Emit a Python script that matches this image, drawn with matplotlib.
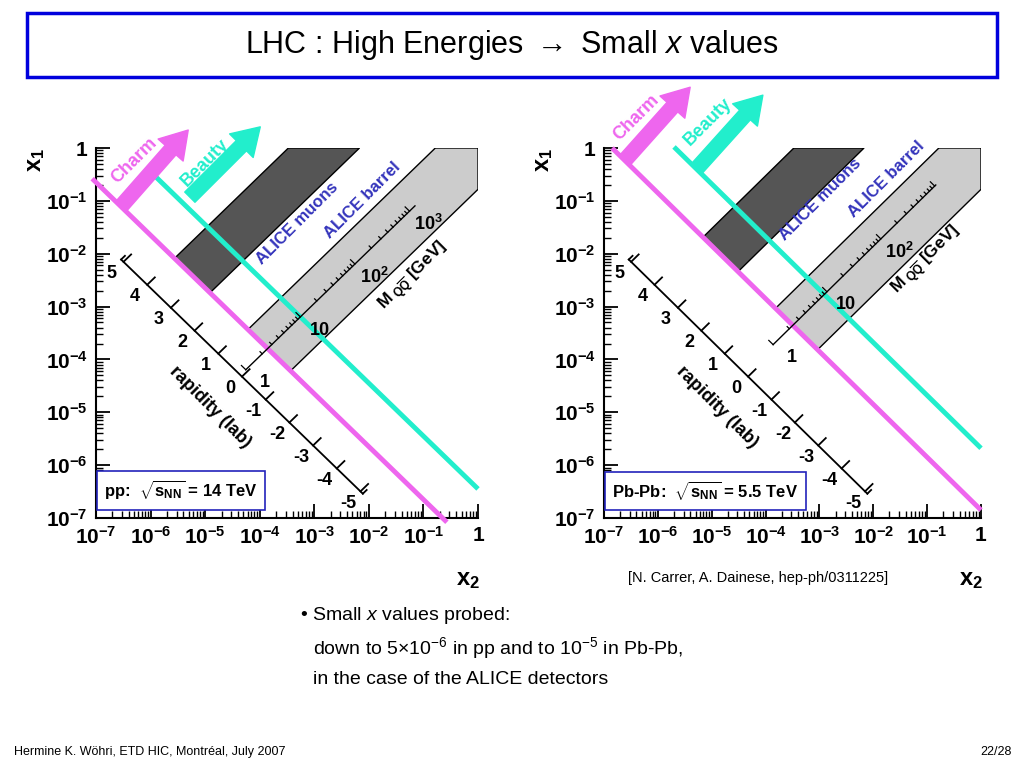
import numpy as np
import matplotlib
matplotlib.use("Agg")
import matplotlib.pyplot as plt
from matplotlib.patches import Polygon, Rectangle

plt.rcParams['font.family'] = ['Liberation Sans', 'DejaVu Sans']
plt.rcParams['mathtext.fontset'] = 'custom'
plt.rcParams['mathtext.rm'] = 'Liberation Sans'
plt.rcParams['mathtext.bf'] = 'Liberation Sans:bold'
plt.rcParams['mathtext.it'] = 'Liberation Sans:italic'

# ---- data (log10 units) ----
systems = ["pp", "Pb-Pb"]
box_texts = [r"pp:  $\mathbf{\sqrt{s_{NN}}}$ = 14 TeV", r"Pb-Pb:  $\mathbf{\sqrt{s_{NN}}}$ = 5.5 TeV"]
charm_sum = [-7.65, -6.85]          # log10(x1*x2) of charm threshold
charm_lx_range = [(-7.07, -0.57), (-6.85, 0.0)]
beauty_sum = [-6.45, -5.68]
beauty_lx_range = [(-5.97, 0.0), (-5.70, 0.0)]
muon_y = (2.5, 4.0)                 # rapidity range ALICE muons
barrel_y = (-0.9, 0.9)              # rapidity range ALICE barrel
rap_sum = -8.65                      # rapidity axis position
rap_ticks = list(range(-5, 6))
rap_extent = 5.1
M_offset = [-8.45, -7.58]            # sum = 2 log10 M + offset
M_diff = [0.06, 0.14]
M_end_sum = [-2.25, -1.54]
M_major = [[1, 10, 100, 1000], [1, 10, 100]]
M_major_labels = {1: "1", 10: "10", 100: r"$\mathbf{10^{2}}$", 1000: r"$\mathbf{10^{3}}$"}
M_label_pos = [(-1.18, -2.42), (-1.00, -2.12)]
muon_text_pos = [(-3.32, -1.42), (-2.99, -0.98)]
barrel_text_pos = [(-2.11, -0.98), (-1.75, -0.60)]
charm_text_pos = [(-6.29, -0.23), (-6.41, 0.57)]
beauty_text_pos = [(-5.00, -0.28), (-5.07, 0.49)]
charm_arrow = [((-6.52, -1.08), (-5.31, 0.34)), ((-6.61, -0.23), (-5.40, 1.15))]
beauty_arrow = [((-5.28, -0.93), (-3.99, 0.40)), ((-5.27, -0.38), (-4.05, 1.00))]
decades = list(range(-7, 1))
dec_labels = [r"$\mathbf{10^{%d}}$" % d for d in range(-7, 0)] + ["1"]

CHARM = "#ee66ee"
BEAUTY = "#22eecc"
TXT = "#3333bb"

fig = plt.figure(figsize=(10.24, 7.68), dpi=100)
W, H = 1024, 768

def pt(s, d):
    return ((s - d) / 2.0, (s + d) / 2.0)

K = 2 / np.log(10)

axes_px = [(96, 478), (604, 981)]
for i in range(2):
    x0, x1 = axes_px[i]
    ax = fig.add_axes([x0 / W, 1 - 518 / H, (x1 - x0) / W, (518 - 148) / H])
    ax.set_xlim(-7, 0); ax.set_ylim(-7, 0)
    for sp in ['top', 'right']:
        ax.spines[sp].set_visible(False)
    ax.spines['left'].set_linewidth(1.5); ax.spines['bottom'].set_linewidth(1.5)
    ax.set_xticks(decades); ax.set_yticks(decades)
    ax.set_xticklabels(dec_labels, fontsize=15, fontweight='bold')
    ax.set_yticklabels(dec_labels, fontsize=15, fontweight='bold')
    minor = [d + np.log10(k) for d in range(-7, 0) for k in range(2, 10)]
    ax.set_xticks(minor, minor=True); ax.set_yticks(minor, minor=True)
    ax.tick_params(which='major', direction='in', length=10, width=1.3, pad=6)
    ax.tick_params(which='minor', direction='in', length=5, width=1)
    ax.set_facecolor('none')

    c = charm_sum[i]
    d1, d2 = K * muon_y[0], K * muon_y[1]
    poly = [pt(c, d2), (-d2, 0), (-d1, 0), pt(c, d1)]
    ax.add_patch(Polygon(poly, closed=True, fc='#555555', ec='black', lw=1, zorder=1))
    b1, b2 = K * barrel_y[0], K * barrel_y[1]
    poly = [pt(c, b2), (-b2, 0), (0, 0), (0, b1), pt(c, b1)]
    ax.add_patch(Polygon(poly, closed=True, fc='#cccccc', ec='black', lw=1, zorder=1))

    for s, (la, lb), col in [(c, charm_lx_range[i], CHARM), (beauty_sum[i], beauty_lx_range[i], BEAUTY)]:
        ax.plot([la, lb], [s - la, s - lb], color=col, lw=3.5, clip_on=False, zorder=3,
                solid_capstyle='butt')
    for (b, t), col in [(charm_arrow[i], CHARM), (beauty_arrow[i], BEAUTY)]:
        ax.annotate("", xy=t, xytext=b, annotation_clip=False, zorder=4,
                    arrowprops=dict(arrowstyle="simple,head_width=1.5,head_length=1.2,tail_width=0.65",
                                    color=col, mutation_scale=16, shrinkA=0, shrinkB=0))
    ax.text(*charm_text_pos[i], "Charm", color=CHARM, rotation=45, fontsize=13, fontweight='bold',
            ha='center', va='center', clip_on=False)
    ax.text(*beauty_text_pos[i], "Beauty", color=BEAUTY, rotation=45, fontsize=13, fontweight='bold',
            ha='center', va='center', clip_on=False)
    ax.text(*muon_text_pos[i], "ALICE muons", color=TXT, rotation=45, fontsize=12, fontweight='bold',
            ha='center', va='center')
    ax.text(*barrel_text_pos[i], "ALICE barrel", color=TXT, rotation=45, fontsize=12, fontweight='bold',
            ha='center', va='center')

    # rapidity axis
    e = K * rap_extent
    A = pt(rap_sum, e); B = pt(rap_sum, -e)
    ax.plot([A[0], B[0]], [A[1], B[1]], color='black', lw=1.3, zorder=5)
    tl = 0.14
    for y in rap_ticks:
        p = pt(rap_sum, K * y)
        ax.plot([p[0], p[0] + tl], [p[1], p[1] + tl], color='black', lw=1.3, zorder=5)
        q = pt(rap_sum - 0.44, K * y)
        ax.text(q[0], q[1], str(y), fontsize=13, fontweight='bold', ha='center', va='center')
    for p in (A, B):
        ax.plot([p[0], p[0] + 0.07], [p[1], p[1] + 0.07], color='black', lw=1.3)
    q = pt(rap_sum - 1.15, 0)
    ax.text(q[0], q[1], "rapidity (lab)", rotation=-45, fontsize=13, fontweight='bold',
            ha='center', va='center')

    # mass axis
    md = M_diff[i]; mo = M_offset[i]
    S0 = mo; S1 = M_end_sum[i]
    A = pt(S0, md); B = pt(S1, md)
    ax.plot([A[0], B[0]], [A[1], B[1]], color='black', lw=1, zorder=5)
    for dec in range(0, 4):
        for k in range(1, 10):
            M = k * 10 ** dec
            s = 2 * np.log10(M) + mo
            if s > S1 + 1e-6:
                continue
            p = pt(s, md)
            L = 0.16 if k == 1 else 0.08
            ax.plot([p[0] - L / 2, p[0]], [p[1] + L / 2, p[1]], color='black', lw=0.9, zorder=5)
    for M in M_major[i]:
        s = 2 * np.log10(M) + mo + 0.1
        q = pt(s, md - 0.6)
        ax.text(q[0], q[1], M_major_labels[M], fontsize=13, fontweight='bold',
                ha='center', va='center')
    ax.text(*M_label_pos[i], r"$\mathbf{M_{\ Q\overline{Q}}}$ [GeV]", rotation=45, fontsize=12.5,
            fontweight='bold', ha='center', va='center')

    ax.text(-6.85, -6.48, box_texts[i], fontsize=12, fontweight='bold', ha='left', va='center',
            bbox=dict(boxstyle='square,pad=0.45', fc='white', ec='#2222bb', lw=1.2), zorder=6)

    fig.text((x0 - 60) / W, 1 - 160 / H, r"$\mathbf{x_1}$", fontsize=17, rotation=90,
             ha='center', va='center')
    fig.text((x1 - 10) / W, 1 - 580 / H, r"$\mathbf{x_2}$", fontsize=17, ha='center', va='center')

fig.patches.append(Rectangle((27 / W, 1 - 77 / H), 970 / W, 64 / H, transform=fig.transFigure,
                             fill=False, ec='#0000dd', lw=2.5))
fig.text(512 / W, 1 - 45 / H, r"LHC : High Energies $\rightarrow$ Small $\mathit{x}$ values", fontsize=22,
         ha='center', va='center')
fig.text(628 / W, 1 - 578 / H, "[N. Carrer, A. Dainese, hep-ph/0311225]", fontsize=10.5,
         ha='left', va='center')
fig.text(300 / W, 1 - 615 / H, r"• Small $\mathit{x}$ values probed:", fontsize=14, ha='left', va='center')
fig.text(313 / W, 1 - 648 / H, r"down to 5×10$^{-6}$ in pp and to 10$^{-5}$ in Pb-Pb,", fontsize=14,
         ha='left', va='center')
fig.text(313 / W, 1 - 680 / H, "in the case of the ALICE detectors", fontsize=14, ha='left', va='center')
fig.text(14 / W, 1 - 752 / H, "Hermine K. Wöhri, ETD HIC, Montréal, July 2007", fontsize=9,
         ha='left', va='center')
fig.text(1012 / W, 1 - 752 / H, "22/28", fontsize=9, ha='right', va='center')

fig.savefig("out.png", dpi=100)
